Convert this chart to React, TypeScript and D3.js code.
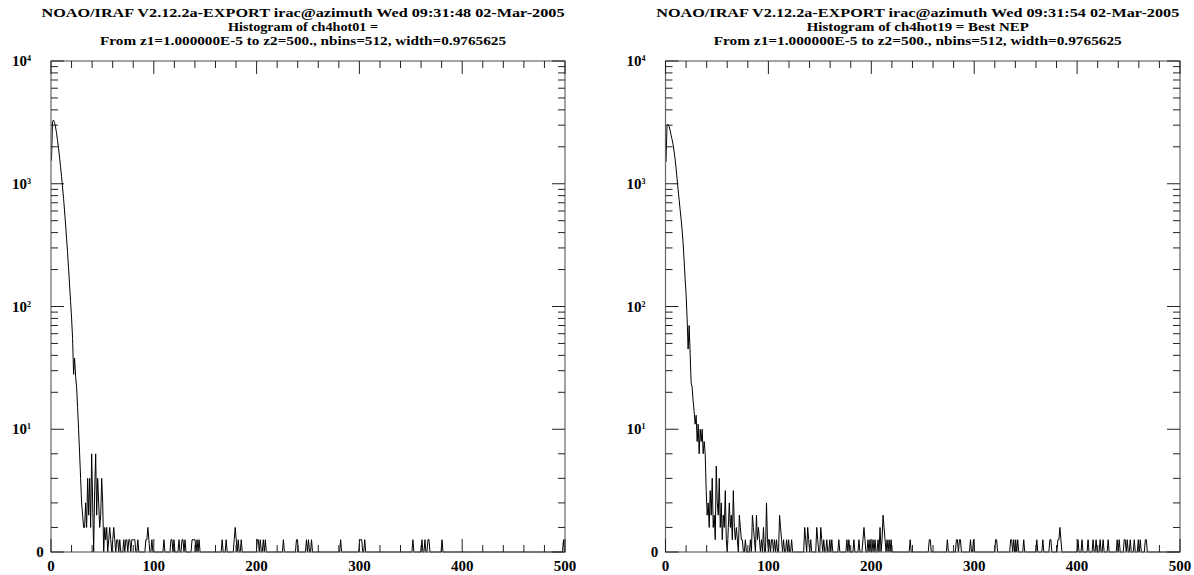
import React from "react";
import * as d3 from "d3";

const NBINS = 512;
const ZMAX = 500;

const titleLeft = [
  "NOAO/IRAF V2.12.2a-EXPORT irac@azimuth Wed 09:31:48 02-Mar-2005",
  "Histogram of ch4hot01 =",
  "From z1=1.000000E-5 to z2=500., nbins=512, width=0.9765625",
];
const titleRight = [
  "NOAO/IRAF V2.12.2a-EXPORT irac@azimuth Wed 09:31:54 02-Mar-2005",
  "Histogram of ch4hot19 = Best NEP",
  "From z1=1.000000E-5 to z2=500., nbins=512, width=0.9765625",
];

// dense head of each histogram (bin 0 onward)
const headLeft = [
  1540, 3200, 3300, 3150, 2900, 2600, 2250, 1950, 1650, 1380,
  1150, 940, 760, 600, 470, 360, 275, 205, 150, 110,
  80, 55, 28, 38, 27, 22, 15, 10, 8, 6,
  4, 3, 2, 2, 4, 2, 6, 3, 6, 2,
  8, 4, 0, 5, 8, 3, 6, 4, 2, 3,
  6, 4, 0, 2, 1, 2, 0, 1, 2, 1,
  0, 1, 2, 1, 0, 1, 1, 0, 1, 0,
];
// sparse tail: [bin, count]
const tailLeft: [number, number][] = [
  [72, 1], [74, 1], [75, 1], [77, 1], [78, 1], [80, 1], [81, 1], [82, 1], [83, 1],
  [86, 1], [94, 1], [95, 1], [96, 2], [97, 1], [100, 1], [112, 1], [119, 1],
  [120, 1], [122, 1], [127, 1], [130, 1], [131, 1], [133, 1], [140, 1], [141, 1],
  [142, 1], [143, 1], [145, 1], [147, 1], [170, 1], [174, 1], [182, 1], [183, 2],
  [184, 1], [186, 1], [189, 1], [205, 1], [206, 1], [208, 1], [211, 1], [213, 1],
  [231, 1], [244, 1], [245, 1], [254, 1], [256, 1], [259, 1], [288, 1], [307, 1],
  [308, 1], [309, 1], [312, 1], [360, 1], [369, 1], [372, 1], [375, 1], [376, 1],
  [389, 1], [510, 1],
];

const headRight = [
  1500, 3000, 3050, 2950, 2750, 2500, 2300, 2100, 1850, 1600,
  1350, 1100, 900, 750, 620, 520, 420, 330, 240, 170,
  125, 80, 45, 70, 42, 24, 22, 17, 14, 11,
  13, 9, 11, 8, 10, 9, 10, 8, 9, 8,
  5, 3, 4, 2, 5, 3, 6, 2, 3, 1,
  7, 4, 3, 6, 2, 4, 1, 3, 2, 5,
  1, 0, 2, 4, 2, 3, 1, 5, 2, 1,
  2, 1, 0, 3, 2, 1, 1, 0, 0, 1,
];
const tailRight: [number, number][] = [
  [84, 1], [86, 3], [87, 2], [88, 1], [90, 3], [91, 1], [92, 2], [93, 1], [95, 1],
  [97, 2], [100, 4], [101, 1], [103, 1], [105, 1], [106, 1], [108, 1], [110, 1],
  [113, 3], [114, 2], [115, 1], [117, 1], [120, 1], [122, 1], [125, 1], [138, 2],
  [139, 1], [141, 2], [142, 1], [144, 1], [150, 2], [151, 1], [154, 2], [155, 1],
  [157, 1], [160, 1], [163, 1], [165, 1], [172, 1], [180, 1], [182, 1], [187, 1],
  [192, 1], [196, 1], [197, 2], [198, 1], [201, 1], [203, 1], [206, 1], [208, 1],
  [211, 1], [213, 2], [215, 1], [216, 3], [217, 2], [218, 1], [220, 1], [222, 1],
  [224, 1], [243, 1], [262, 1], [263, 1], [280, 1], [289, 1], [290, 1], [292, 1],
  [293, 1], [303, 1], [306, 1], [328, 1], [329, 1], [343, 1], [344, 1], [346, 1],
  [348, 1], [350, 1], [356, 1], [369, 1], [375, 1], [382, 1], [383, 1], [390, 1],
  [391, 1], [392, 2], [393, 1], [410, 1], [414, 1], [420, 1], [425, 1], [428, 1],
  [432, 1], [435, 1], [440, 1], [449, 1], [451, 1], [456, 1], [457, 1], [459, 1],
  [462, 1], [466, 1], [470, 1], [472, 1], [477, 1], [478, 1],
];

const xTickValues = [0, 100, 200, 300, 400, 500];
const yDecades = [1, 2, 3, 4];

function buildCounts(head: number[], tail: [number, number][]) {
  const arr = new Array(NBINS).fill(0);
  head.forEach((v, i) => (arr[i] = v));
  tail.forEach(([b, v]) => (arr[b] = v));
  return arr;
}

const TOP = 61;
const BOTTOM = 552;
const FONT = "'Liberation Serif', 'Times New Roman', serif";

function Panel({ x0, x1, title, titleW, head, tail }: any) {
  const seg = (BOTTOM - TOP) / 4;
  const lin = d3.scaleLinear().domain([0, 10]).range([BOTTOM, BOTTOM - seg]);
  const lg = d3.scaleLog().domain([10, 1e4]).range([BOTTOM - seg, TOP]);
  const y = (v: number) => (v <= 10 ? lin(v) : lg(v));
  const x = d3.scaleLinear().domain([0, ZMAX]).range([x0, x1]);
  const bw = ZMAX / NBINS;
  const counts = buildCounts(head, tail);
  const line = d3
    .line<number>()
    .x((_, i) => x((i + 0.5) * bw))
    .y((d) => y(d));
  const cx = (x0 + x1) / 2 - 5;

  const yTicks: { v: number; major: boolean }[] = [];
  [0, 2, 4, 6, 8].forEach((v) => yTicks.push({ v, major: v === 0 }));
  for (let d = 1; d <= 4; d++) {
    const base = Math.pow(10, d);
    yTicks.push({ v: base, major: true });
    if (d < 4) for (let k = 2; k <= 9; k++) yTicks.push({ v: k * base, major: false });
  }
  const xTicks = d3.range(0, ZMAX + 1, 20);

  return (
    <g>
      {title.map((t: string, i: number) => (
        <text
          key={i}
          x={cx}
          y={17 + i * 14}
          textAnchor="middle"
          fontFamily={FONT}
          fontWeight="bold"
          fontSize={13.5}
          textLength={titleW[i]}
          lengthAdjust="spacingAndGlyphs"
        >
          {t}
        </text>
      ))}
      <path d={line(counts) || ""} fill="none" stroke="#000" strokeWidth={1} />
      <rect x={x0} y={TOP} width={x1 - x0} height={BOTTOM - TOP} fill="none" stroke="#666" strokeWidth={1.2} />
      {yTicks.map((t, i) => {
        const len = t.major ? 13 : 7;
        const yy = y(t.v);
        return (
          <g key={"y" + i} stroke="#222" strokeWidth={1}>
            <line x1={x0} x2={x0 + len} y1={yy} y2={yy} />
            <line x1={x1} x2={x1 - len} y1={yy} y2={yy} />
          </g>
        );
      })}
      {xTicks.map((v) => {
        const len = v % 100 === 0 ? 13 : 7;
        const xx = x(v);
        return (
          <g key={"x" + v} stroke="#222" strokeWidth={1}>
            <line x1={xx} x2={xx} y1={TOP} y2={TOP + len} />
            <line x1={xx} x2={xx} y1={BOTTOM} y2={BOTTOM - len} />
          </g>
        );
      })}
      {xTickValues.map((v) => (
        <text
          key={"xl" + v}
          x={x(v)}
          y={BOTTOM + 19}
          textAnchor="middle"
          fontFamily={FONT}
          fontWeight="bold"
          fontSize={15}
        >
          {v}
        </text>
      ))}
      <text x={x0 - 11} y={BOTTOM + 5} textAnchor="middle" fontFamily={FONT} fontWeight="bold" fontSize={15}>
        0
      </text>
      {yDecades.map((d) => (
        <text
          key={"yl" + d}
          x={x0 - 39}
          y={y(Math.pow(10, d)) + 5}
          fontFamily={FONT}
          fontWeight="bold"
          fontSize={15}
        >
          10
          <tspan fontSize={8} dy={-5}>
            {d}
          </tspan>
        </text>
      ))}
    </g>
  );
}

export default function App() {
  return (
    <svg
      width={1194}
      height={575}
      style={{ position: "absolute", left: 0, top: 0, background: "#fff" }}
    >
      <rect width={1194} height={575} fill="#fff" />
      <Panel x0={51} x1={565} title={titleLeft} titleW={[523, 150, 406]} head={headLeft} tail={tailLeft} />
      <Panel x0={665.5} x1={1180} title={titleRight} titleW={[523, 222, 408]} head={headRight} tail={tailRight} />
    </svg>
  );
}
